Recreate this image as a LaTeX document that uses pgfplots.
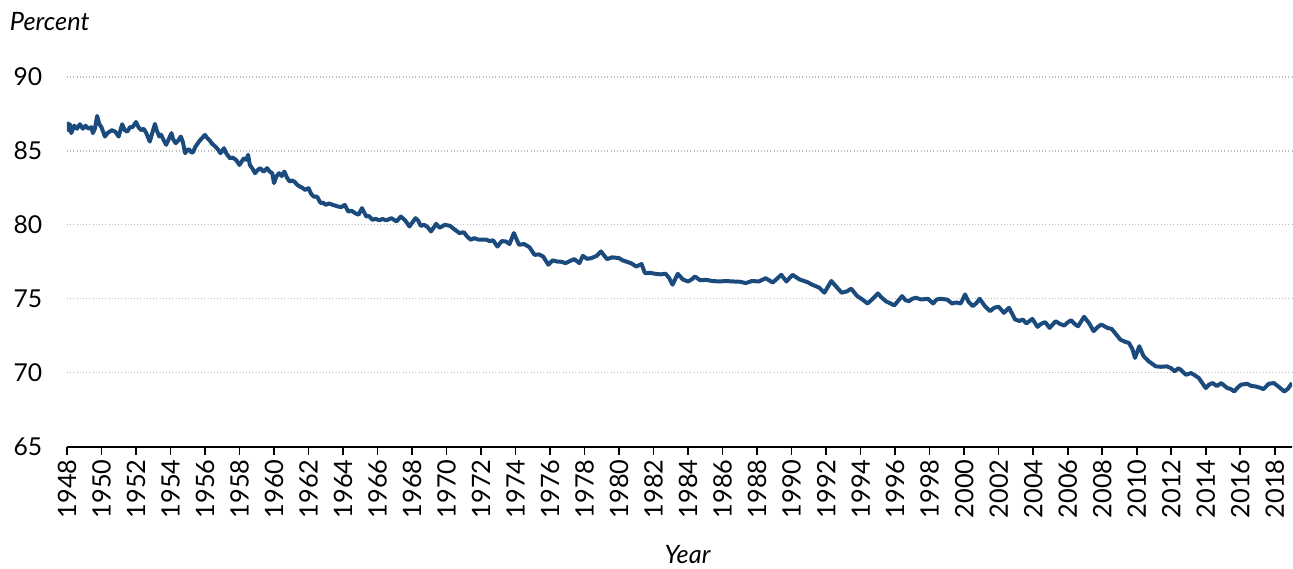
\documentclass[border=0pt]{standalone}
\usepackage{fontspec}
\setmainfont{Lato}
\usepackage{pgfplots}
\pgfplotsset{compat=1.18}
\definecolor{lineblue}{HTML}{1B4A7C}
\definecolor{gridgray}{HTML}{BDBDBD}
\pgfplotstableread{
x y
1948.00 86.96
1948.08 86.4
1948.17 86.8
1948.25 86.2
1948.42 86.7
1948.58 86.5
1948.75 86.8
1948.92 86.5
1949.08 86.7
1949.25 86.5
1949.42 86.6
1949.50 86.2
1949.62 86.5
1949.75 87.36
1949.88 86.8
1950.00 86.6
1950.20 85.97
1950.35 86.2
1950.60 86.4
1950.80 86.3
1951.00 85.97
1951.20 86.8
1951.35 86.4
1951.50 86.3
1951.65 86.6
1951.80 86.6
1952.00 86.95
1952.15 86.6
1952.30 86.4
1952.45 86.5
1952.60 86.2
1952.80 85.63
1953.10 86.82
1953.20 86.4
1953.35 85.97
1953.45 86.1
1953.60 85.74
1953.75 85.41
1954.06 86.2
1954.15 85.8
1954.30 85.52
1954.45 85.7
1954.60 85.97
1954.72 85.6
1954.85 84.84
1955.00 85.1
1955.10 85.07
1955.20 84.9
1955.30 84.9
1955.45 85.29
1955.70 85.7
1956.00 86.08
1956.10 85.9
1956.25 85.74
1956.40 85.5
1956.60 85.29
1956.75 85.1
1956.90 84.84
1957.10 85.18
1957.25 84.8
1957.45 84.5
1957.60 84.55
1957.80 84.39
1958.00 84.05
1958.25 84.5
1958.40 84.4
1958.50 84.73
1958.60 84.05
1958.75 83.8
1958.90 83.49
1959.05 83.7
1959.20 83.83
1959.40 83.6
1959.60 83.83
1959.75 83.6
1959.90 83.49
1960.00 82.82
1960.15 83.3
1960.30 83.49
1960.45 83.3
1960.60 83.6
1960.75 83.2
1960.90 82.93
1961.05 83.0
1961.20 82.9
1961.35 82.7
1961.50 82.59
1961.65 82.5
1961.80 82.36
1962.00 82.48
1962.15 82.1
1962.30 81.91
1962.50 81.9
1962.70 81.47
1962.85 81.5
1963.00 81.35
1963.20 81.45
1963.40 81.35
1963.55 81.3
1963.70 81.24
1963.90 81.2
1964.10 81.35
1964.30 80.9
1964.50 80.95
1964.70 80.79
1964.90 80.68
1965.10 81.13
1965.35 80.56
1965.50 80.6
1965.70 80.34
1965.90 80.4
1966.10 80.3
1966.30 80.4
1966.50 80.3
1966.80 80.45
1967.10 80.23
1967.35 80.56
1967.60 80.3
1967.85 79.89
1968.05 80.2
1968.20 80.45
1968.35 80.3
1968.50 79.93
1968.70 80.0
1968.90 79.85
1969.10 79.55
1969.40 80.07
1969.60 79.8
1969.90 80.0
1970.20 79.93
1970.45 79.7
1970.75 79.44
1971.00 79.5
1971.20 79.2
1971.40 78.99
1971.60 79.1
1971.85 79.0
1972.10 79.0
1972.30 79.0
1972.50 78.9
1972.70 78.95
1972.95 78.53
1973.20 78.9
1973.45 78.87
1973.65 78.7
1973.90 79.44
1974.20 78.65
1974.50 78.7
1974.80 78.49
1975.10 77.97
1975.35 78.0
1975.60 77.86
1975.90 77.3
1976.15 77.6
1976.40 77.52
1976.65 77.5
1976.90 77.41
1977.15 77.55
1977.40 77.68
1977.70 77.41
1977.90 77.9
1978.15 77.7
1978.40 77.75
1978.70 77.9
1978.95 78.2
1979.30 77.68
1979.60 77.8
1980.00 77.75
1980.20 77.6
1980.40 77.52
1980.70 77.4
1981.00 77.18
1981.30 77.35
1981.50 76.73
1981.80 76.75
1982.10 76.69
1982.40 76.65
1982.70 76.69
1982.90 76.4
1983.10 75.95
1983.40 76.69
1983.70 76.3
1984.00 76.17
1984.20 76.3
1984.40 76.5
1984.70 76.25
1985.05 76.28
1985.40 76.2
1985.80 76.17
1986.20 76.2
1986.60 76.17
1987.00 76.15
1987.35 76.06
1987.70 76.2
1988.10 76.17
1988.50 76.39
1988.90 76.1
1989.10 76.3
1989.40 76.62
1989.70 76.17
1990.05 76.62
1990.45 76.31
1990.90 76.13
1991.20 75.95
1991.60 75.75
1991.90 75.41
1992.30 76.2
1992.60 75.8
1992.90 75.41
1993.20 75.5
1993.45 75.68
1993.80 75.18
1994.10 74.95
1994.40 74.68
1994.70 75.0
1995.00 75.36
1995.20 75.1
1995.45 74.84
1995.70 74.7
1995.95 74.55
1996.20 74.9
1996.40 75.18
1996.60 74.9
1996.80 74.84
1997.00 75.0
1997.20 75.07
1997.50 74.95
1997.90 75.0
1998.20 74.68
1998.40 74.95
1998.60 75.0
1999.00 74.95
1999.30 74.68
1999.55 74.75
1999.80 74.68
2000.05 75.29
2000.25 74.8
2000.50 74.5
2000.70 74.7
2000.90 75.0
2001.20 74.5
2001.50 74.16
2001.75 74.4
2002.00 74.46
2002.30 74.05
2002.60 74.39
2002.95 73.6
2003.20 73.5
2003.40 73.6
2003.60 73.33
2003.95 73.64
2004.25 73.1
2004.45 73.3
2004.70 73.42
2004.95 73.03
2005.30 73.48
2005.55 73.3
2005.80 73.19
2006.00 73.4
2006.20 73.55
2006.40 73.3
2006.60 73.14
2006.95 73.78
2007.25 73.33
2007.50 72.81
2007.75 73.1
2007.95 73.26
2008.30 73.03
2008.55 72.96
2008.80 72.6
2009.05 72.24
2009.30 72.1
2009.55 72.01
2009.75 71.6
2009.90 71.0
2010.15 71.79
2010.40 71.11
2010.70 70.77
2010.90 70.6
2011.10 70.43
2011.40 70.4
2011.75 70.43
2012.00 70.3
2012.20 70.09
2012.40 70.3
2012.55 70.2
2012.85 69.86
2013.15 69.98
2013.40 69.8
2013.60 69.64
2013.80 69.3
2014.00 68.96
2014.20 69.2
2014.40 69.3
2014.65 69.1
2014.90 69.3
2015.10 69.1
2015.25 68.96
2015.45 68.9
2015.65 68.73
2015.85 69.0
2016.05 69.19
2016.40 69.25
2016.65 69.1
2016.90 69.07
2017.10 69.0
2017.35 68.89
2017.65 69.25
2017.95 69.3
2018.25 69.03
2018.55 68.73
2018.75 68.9
2019.00 69.3
}\lfpr
\begin{document}
\begin{tikzpicture}
\begin{axis}[
  name=ax,
  scale only axis,
  width=919.5pt, height=277.5pt,
  xmin=1948, xmax=2019,
  ymin=65, ymax=90,
  axis x line*=bottom,
  axis y line*=left,
  y axis line style={draw=none},
  x axis line style={line width=1.5pt, black},
  xtick={1948,1950,...,2018},
  ytick={65,70,...,90},
  xticklabel style={rotate=90, anchor=east, font=\fontsize{19}{19}\selectfont},
  yticklabel style={font=\fontsize{18.5}{18.5}\selectfont, anchor=east, xshift=-9pt},
  xtick style={line width=1.2pt, black},
  major tick length=6pt,
  tick align=outside,
  ytick style={draw=none},
  /pgf/number format/1000 sep={},
  /pgf/number format/assume math mode=true,
  ymajorgrids=true,
  grid style={gridgray, dotted, line width=1pt},
  clip mode=individual,
]
\addplot[lineblue, line width=3pt, line join=round] table[x=x,y=y] {\lfpr};
\node[anchor=base west, font=\fontsize{19}{19}\selectfont\itshape, inner sep=0pt]
  at ([xshift=-43pt, yshift=34.5pt]rel axis cs:0,1) {Percent};
\node[anchor=base, font=\fontsize{19}{19}\selectfont\itshape, inner sep=0pt]
  at ([xshift=6pt, yshift=-88pt]rel axis cs:0.5,0) {Year};
\end{axis}
\path ([xshift=-50.25pt, yshift=57.75pt]ax.north west) ([yshift=-91.5pt]ax.south east);
\end{tikzpicture}
\end{document}
